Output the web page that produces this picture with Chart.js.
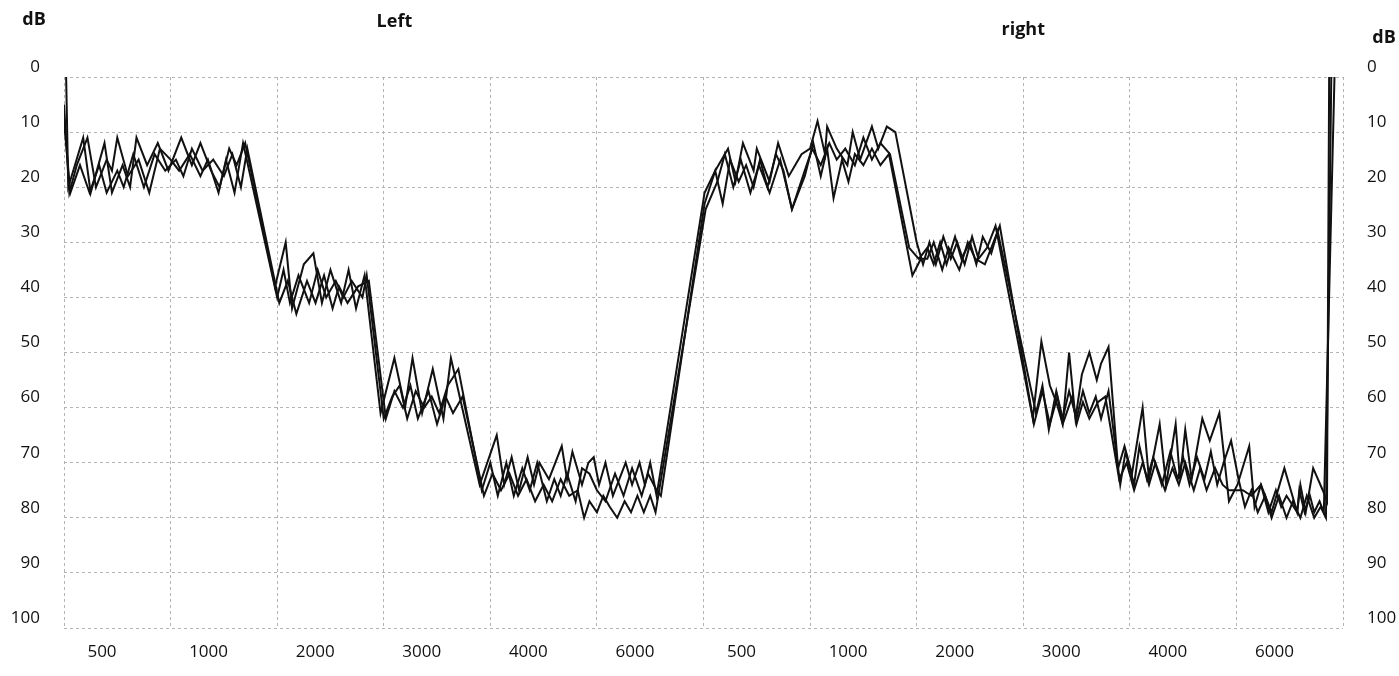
<!DOCTYPE html>
<html>
<head>
<meta charset="utf-8">
<script src="https://cdn.jsdelivr.net/npm/chart.js@4.4.0/dist/chart.umd.min.js"></script>
<style>
  html, body { margin: 0; padding: 0; background: #ffffff; }
  #wrap { width: 1399px; height: 676px; position: relative; }
</style>
</head>
<body>
<div id="wrap"><canvas id="audiogram" width="1399" height="676"></canvas></div>
<script>
// Frequency bands: each band is one unit wide on the x scale (band i spans i..i+1).
const frequencyLabels = ['500', '1000', '2000', '3000', '4000', '6000',
                         '500', '1000', '2000', '3000', '4000', '6000'];
const earTitles = ['Left', 'right'];
const levelTicks = [0, 10, 20, 30, 40, 50, 60, 70, 80, 90, 100];

// Three tracings, each as [band position, dB HL] pairs.
const tracing1 = [
  [0.02,0],[0.04,20],[0.18,11],[0.25,21],[0.38,12],[0.45,21],[0.55,16],[0.62,20],[0.68,11],[0.78,16],
  [0.88,12],[0.98,17],[1.10,11],[1.20,16],[1.28,12],[1.38,17],[1.46,20],[1.55,13],[1.62,16],[1.70,12],
  [1.98,38],[2.08,30],[2.14,42],[2.25,34],[2.34,32],[2.42,41],[2.50,35],[2.60,41],[2.67,35],[2.74,42],[2.82,36],
  [2.97,61],[3.10,51],[3.20,60],[3.27,51],[3.36,61],[3.46,53],[3.56,62],[3.63,51],
  [3.90,74],[4.06,65],[4.13,74],[4.20,69],[4.27,75],[4.35,69],[4.41,74],[4.46,70],[4.55,73],[4.67,67],[4.72,73],
  [4.77,68],[4.86,74],[4.92,70],[4.97,69],[5.02,74],[5.08,70],[5.15,76],[5.27,70],[5.33,74],[5.40,70],[5.45,74],
  [5.50,70],[5.56,76],
  [6.01,21],[6.11,17],[6.23,13],[6.30,19],[6.37,12],[6.47,17],[6.50,13],[6.62,19],[6.70,12],[6.80,18],[6.92,14],
  [7.00,13],[7.07,8],[7.14,14],[7.16,9],[7.25,13],[7.35,16],[7.40,10],[7.47,15],[7.58,9],[7.64,13],[7.72,9],[7.80,10],
  [8.00,30],[8.06,34],[8.12,30],[8.18,34],[8.25,29],[8.32,33],[8.38,30],[8.45,34],[8.52,29],[8.58,33],[8.66,31],[8.74,27],
  [9.09,62],[9.17,48],[9.25,56],[9.31,59],[9.37,63],[9.43,50],[9.49,62],[9.55,54],[9.62,50],[9.69,55],[9.73,52],[9.80,49],
  [9.89,71],[9.95,67],[10.02,72],[10.12,60],[10.18,73],[10.28,63],[10.34,74],[10.43,63],[10.47,73],[10.52,64],
  [10.58,73],[10.68,62],[10.75,66],[10.84,61],[10.93,77],
  [11.01,74],[11.12,67],[11.17,78],[11.23,74],[11.33,79],[11.45,71],[11.57,79],[11.60,74],[11.65,79],[11.72,71],
  [11.81,75],[11.85,77],[11.87,0]
];

const tracing2 = [
  [0.00,5],[0.05,21],[0.12,16],[0.22,11],[0.30,20],[0.40,15],[0.45,17],[0.50,11],[0.60,18],[0.70,15],[0.80,21],
  [0.90,13],[1.00,15],[1.08,17],[1.18,14],[1.28,18],[1.35,15],[1.45,21],[1.52,15],[1.60,21],[1.68,12],
  [2.00,40],[2.06,35],[2.12,41],[2.20,36],[2.30,41],[2.38,35],[2.46,40],[2.55,37],[2.62,40],[2.70,37],[2.80,40],[2.84,36],
  [3.00,62],[3.08,58],[3.15,56],[3.22,62],[3.30,57],[3.38,60],[3.45,58],[3.52,61],[3.60,56],[3.70,53],
  [3.92,75],[4.00,70],[4.07,76],[4.15,70],[4.22,76],[4.30,71],[4.37,75],[4.44,70],[4.53,77],[4.60,73],[4.66,76],
  [4.72,72],[4.80,77],[4.86,71],[4.93,72],[5.00,75],[5.08,77],[5.17,72],[5.25,76],[5.33,71],[5.42,76],[5.48,72],
  [5.56,75],[5.60,76],
  [6.01,23],[6.11,17],[6.18,23],[6.25,15],[6.33,19],[6.40,16],[6.47,20],[6.53,15],[6.60,20],[6.68,14],[6.75,17],
  [6.83,24],[6.95,17],[7.02,13],[7.10,16],[7.18,12],[7.25,15],[7.33,13],[7.42,16],[7.50,11],[7.58,15],[7.66,12],[7.75,14],
  [7.93,31],[8.02,33],[8.10,31],[8.16,34],[8.22,30],[8.28,34],[8.36,29],[8.42,33],[8.50,30],[8.56,34],[8.62,29],
  [8.70,32],[8.76,28],
  [9.12,61],[9.18,56],[9.24,64],[9.31,57],[9.37,62],[9.43,57],[9.50,62],[9.56,57],[9.62,61],[9.68,58],[9.73,62],[9.80,57],
  [9.91,74],[9.96,68],[10.04,74],[10.09,67],[10.16,73],[10.22,69],[10.30,74],[10.38,68],[10.45,73],[10.50,69],
  [10.56,74],[10.63,69],[10.70,73],[10.76,68],[10.82,74],[10.88,70],[10.95,66],
  [11.02,73],[11.08,78],[11.14,75],[11.20,79],[11.27,76],[11.33,80],[11.40,76],[11.47,80],[11.53,77],[11.60,80],
  [11.66,76],[11.73,80],[11.79,78],[11.84,80],[11.89,0]
];

const tracing3 = [
  [0.00,8],[0.06,21],[0.15,16],[0.24,21],[0.33,16],[0.40,21],[0.50,17],[0.56,20],[0.65,14],[0.75,20],[0.85,14],
  [0.95,17],[1.05,15],[1.12,18],[1.20,13],[1.30,17],[1.40,15],[1.50,18],[1.58,14],[1.66,20],[1.72,13],
  [2.02,41],[2.10,37],[2.18,43],[2.28,37],[2.36,41],[2.44,36],[2.52,42],[2.58,38],[2.66,41],[2.76,38],[2.86,37],
  [3.02,62],[3.10,57],[3.18,60],[3.25,56],[3.32,62],[3.42,57],[3.50,63],[3.58,58],[3.65,61],[3.74,58],
  [3.94,76],[4.02,72],[4.10,75],[4.18,72],[4.26,76],[4.34,73],[4.42,77],[4.50,74],[4.58,77],[4.66,73],[4.74,76],
  [4.82,75],[4.88,80],[4.93,77],[5.00,79],[5.06,76],[5.12,78],[5.19,80],[5.26,77],[5.32,79],[5.38,76],[5.44,79],
  [5.50,76],[5.55,79],
  [6.02,24],[6.13,19],[6.20,14],[6.28,20],[6.35,15],[6.44,21],[6.52,16],[6.62,21],[6.72,15],[6.83,24],[6.95,18],
  [7.03,12],[7.10,18],[7.16,13],[7.22,22],[7.30,15],[7.36,19],[7.42,14],[7.50,16],[7.58,13],[7.66,16],[7.74,14],
  [7.96,36],[8.04,33],[8.10,33],[8.16,30],[8.24,35],[8.30,31],[8.40,35],[8.48,30],[8.55,33],[8.64,34],[8.72,30],[8.78,27],
  [9.10,63],[9.18,57],[9.25,63],[9.32,58],[9.37,63],[9.46,58],[9.50,63],[9.56,59],[9.62,62],[9.70,59],[9.77,58],
  [9.90,73],[9.97,70],[10.04,75],[10.12,70],[10.18,74],[10.24,70],[10.33,75],[10.40,71],[10.46,74],[10.52,70],
  [10.60,75],[10.66,71],[10.72,75],[10.80,71],[10.87,74],[10.93,75],
  [11.06,75],[11.14,76],[11.23,74],[11.30,79],[11.37,75],[11.42,78],[11.47,76],[11.57,79],[11.59,75],[11.64,79],
  [11.69,76],[11.73,79],[11.78,77],[11.82,79],[11.92,0]
];

const tickFont = { family: "'Open Sans', 'Noto Sans', sans-serif", size: 17, weight: '500' };
const titleFont = "bold 18px 'Open Sans', 'Noto Sans', sans-serif";
const gridColor = '#b4b4b4';

const toPoints = pairs => pairs.map(([x, y]) => ({ x, y }));

// Axis titles ("dB") and the ear headings above each half.
const headingsPlugin = {
  id: 'headings',
  afterDraw(chart) {
    const { ctx } = chart;
    const xs = chart.scales.x;
    ctx.save();
    ctx.fillStyle = '#111111';
    ctx.font = titleFont;
    ctx.textBaseline = 'alphabetic';
    ctx.textAlign = 'center';
    ctx.fillText('dB', 34, 25);
    ctx.fillText(earTitles[0], xs.getPixelForValue(3.1), 27);
    ctx.fillText(earTitles[1], xs.getPixelForValue(9.0), 35);
    ctx.fillText('dB', 1384, 43);
    ctx.restore();
  }
};

const makeSet = pairs => ({
  data: toPoints(pairs),
  borderColor: '#111111',
  borderWidth: 2,
  pointRadius: 0,
  tension: 0,
  fill: false,
  xAxisID: 'x',
  yAxisID: 'y'
});

new Chart(document.getElementById('audiogram').getContext('2d'), {
  type: 'line',
  data: { datasets: [makeSet(tracing1), makeSet(tracing2), makeSet(tracing3)] },
  options: {
    responsive: false,
    animation: false,
    devicePixelRatio: 1,
    layout: { padding: { top: 77, left: 0, right: 0, bottom: 0 } },
    plugins: { legend: { display: false }, tooltip: { enabled: false } },
    scales: {
      x: {
        type: 'linear',
        min: 0,
        max: 12,
        position: 'bottom',
        afterBuildTicks(scale) {
          scale.ticks = Array.from({ length: 13 }, (_, i) => ({ value: i }));
        },
        ticks: {
          autoSkip: false,
          maxRotation: 0,
          minRotation: 0,
          labelOffset: 38,
          padding: 14,
          color: '#111111',
          font: tickFont,
          callback: v => frequencyLabels[v] ?? ''
        },
        grid: { color: gridColor, lineWidth: 1, drawTicks: false },
        border: { display: false, dash: [3, 3] },
        afterFit(scale) { scale.height = 48; }
      },
      y: {
        type: 'linear',
        reverse: true,
        min: 0,
        max: 100,
        position: 'left',
        afterBuildTicks(scale) {
          scale.ticks = levelTicks.map(v => ({ value: v }));
        },
        ticks: { padding: 24, labelOffset: -10, color: '#111111', font: tickFont },
        grid: { color: gridColor, lineWidth: 1, drawTicks: false },
        border: { display: false, dash: [3, 3] },
        afterFit(scale) { scale.width = 64; }
      },
      y2: {
        type: 'linear',
        reverse: true,
        min: 0,
        max: 100,
        position: 'right',
        afterBuildTicks(scale) {
          scale.ticks = levelTicks.map(v => ({ value: v }));
        },
        ticks: { padding: 24, labelOffset: -10, color: '#111111', font: tickFont },
        grid: { display: false, drawTicks: false },
        border: { display: false },
        afterFit(scale) { scale.width = 56; }
      }
    }
  },
  plugins: [headingsPlugin]
});
</script>
</body>
</html>
